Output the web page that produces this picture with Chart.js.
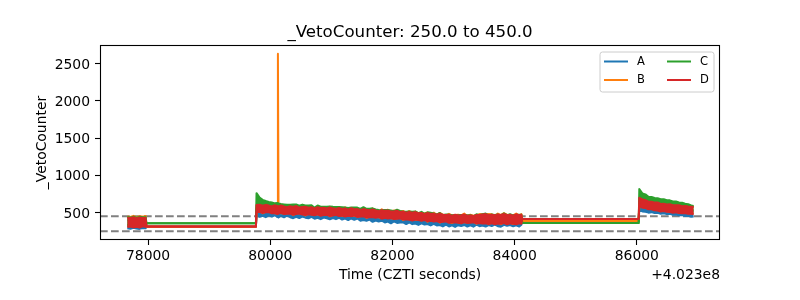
<!DOCTYPE html>
<html><head><meta charset="utf-8">
<script src="https://cdn.jsdelivr.net/npm/chart.js@4"></script>
<style>html,body{margin:0;padding:0;background:#fff}canvas{display:block}</style>
</head><body>
<canvas id="c" width="800" height="300"></canvas>
<script>
// ---- data: time offsets from 4.023e8 s; each series given as the upper and
// lower envelope of its fast-varying count rate in each time bin ----
const times = [
  77660, 77710, 77760, 77810, 77860, 77910, 77960,
  77975, 79765,
  79775, 79825, 79875, 79925, 79975, 80025, 80075, 80115, 80125, 80135,
  80175, 80225, 80275, 80325, 80375, 80425, 80475, 80525, 80575, 80625,
  80675, 80725, 80775, 80825, 80875, 80925, 80975, 81025, 81075, 81125,
  81175, 81225, 81275, 81325, 81375, 81425, 81475, 81525, 81575, 81625,
  81675, 81725, 81775, 81825, 81875, 81925, 81975, 82025, 82075, 82125,
  82175, 82225, 82275, 82325, 82375, 82425, 82475, 82525, 82575, 82625,
  82675, 82725, 82775, 82825, 82875, 82925, 82975, 83025, 83075, 83125,
  83175, 83225, 83275, 83325, 83375, 83425, 83475, 83525, 83575, 83625,
  83675, 83725, 83775, 83825, 83875, 83925, 83975, 84025, 84075, 84110,
  84125, 86030,
  86040, 86090, 86140, 86190, 86240, 86290, 86340, 86390, 86440, 86490,
  86540, 86590, 86640, 86690, 86740, 86790, 86840, 86890, 86929
];
const seriesAUpper = [
  400, 395, 405, 390, 398, 402, 396,
  310, 310,
  548, 550, 544, 545, 541, 538, 536, 537, 533, 534,
  530, 529, 527, 524, 523, 521, 520, 517, 516, 514,
  513, 512, 509, 510, 506, 505, 504, 502, 500, 501,
  498, 496, 495, 493, 491, 490, 487, 485, 484, 480,
  479, 476, 474, 471, 470, 467, 464, 462, 460, 457,
  455, 452, 449, 447, 444, 441, 438, 436, 433, 430,
  427, 425, 422, 419, 416, 414, 411, 410, 409, 409,
  408, 408, 407, 408, 406, 405, 406, 405, 404, 405,
  404, 403, 404, 403, 402, 403, 402, 401, 402, 401,
  386, 386,
  600, 590, 582, 575, 568, 562, 556, 550, 546, 541,
  537, 533, 529, 525, 521, 518, 515, 512, 509
];
const seriesALower = [
  290, 282, 295, 285, 280, 292, 288,
  310, 310,
  463, 442, 456, 437, 461, 445, 463, 439, 449, 433,
  456, 436, 457, 437, 424, 443, 425, 446, 431, 423,
  442, 417, 430, 410, 432, 423, 408, 426, 411, 430,
  405, 418, 398, 420, 403, 419, 390, 400, 388, 404,
  375, 393, 380, 390, 366, 379, 355, 380, 360, 365,
  369, 345, 369, 344, 351, 334, 354, 338, 346, 326,
  349, 326, 332, 313, 336, 313, 327, 307, 330, 320,
  333, 312, 328, 310, 337, 316, 325, 311, 332, 319,
  337, 316, 309, 334, 321, 331, 314, 329, 311, 337,
  386, 386,
  528, 515, 510, 498, 505, 492, 496, 484, 490, 478,
  482, 470, 472, 462, 465, 452, 456, 442, 446
];
const seriesBUpper = [
  448, 440, 455, 438, 450, 445, 452,
  310, 310,
  590, 592, 582, 590, 585, 572, 586, 575, 2630, 570,
  582, 572, 560, 574, 565, 575, 558, 562, 568, 556,
  560, 548, 561, 552, 553, 548, 577, 550, 559, 557,
  553, 569, 531, 559, 554, 541, 547, 544, 543, 520,
  553, 530, 514, 544, 517, 537, 513, 527, 519, 510,
  521, 494, 521, 489, 513, 491, 488, 489, 499, 474,
  498, 468, 494, 472, 461, 483, 460, 467, 469, 463,
  485, 450, 470, 456, 460, 479, 476, 476, 479, 476,
  457, 485, 466, 492, 472, 462, 461, 487, 460, 478,
  386, 386,
  690, 668, 660, 640, 638, 628, 630, 612, 614, 606,
  608, 600, 602, 600, 590, 592, 586, 584, 578
];
const seriesBLower = [
  320, 318, 315, 322, 312, 325, 320,
  310, 310,
  513, 522, 489, 513, 513, 505, 490, 489, 503, 499,
  491, 489, 490, 502, 467, 490, 494, 484, 460, 486,
  476, 479, 472, 465, 474, 481, 449, 469, 475, 468,
  455, 454, 465, 461, 453, 451, 451, 464, 429, 445,
  447, 441, 435, 427, 434, 435, 424, 421, 424, 433,
  400, 421, 410, 408, 404, 407, 397, 412, 376, 400,
  386, 400, 365, 386, 388, 374, 360, 379, 368, 369,
  368, 368, 372, 380, 350, 370, 357, 370, 343, 366,
  349, 365, 343, 369, 349, 369, 345, 350, 363, 362,
  386, 386,
  592, 572, 570, 550, 552, 538, 535, 522, 528, 518,
  515, 506, 510, 500, 498, 500, 490, 491, 486
];
const seriesCUpper = [
  440, 432, 445, 430, 442, 436, 438,
  355, 355,
  760, 700, 670, 655, 643, 634, 623, 628, 617, 620,
  613, 609, 604, 605, 607, 607, 593, 606, 595, 595,
  598, 565, 595, 579, 577, 579, 581, 576, 573, 575,
  572, 568, 561, 567, 569, 566, 549, 572, 549, 552,
  556, 541, 534, 531, 535, 534, 527, 518, 537, 522,
  511, 510, 513, 511, 515, 490, 509, 482, 503, 498,
  487, 473, 494, 463, 472, 469, 462, 463, 464, 465,
  465, 462, 464, 448, 476, 463, 476, 486, 459, 474,
  467, 472, 461, 488, 463, 477, 462, 468, 471, 469,
  359, 359,
  815, 757, 744, 712, 708, 694, 693, 679, 678, 664,
  663, 649, 647, 634, 632, 617, 612, 595, 588
];
const seriesCLower = [
  330, 335, 325, 330, 320, 335, 328,
  355, 355,
  560, 555, 556, 552, 550, 548, 546, 545, 544, 542,
  540, 539, 537, 535, 533, 532, 530, 529, 527, 526,
  524, 523, 521, 520, 518, 517, 515, 514, 512, 511,
  509, 508, 506, 505, 503, 501, 498, 496, 494, 491,
  489, 487, 484, 482, 480, 477, 475, 473, 470, 467,
  465, 462, 459, 456, 454, 451, 448, 445, 443, 440,
  437, 434, 432, 429, 426, 423, 420, 420, 420, 419,
  419, 419, 418, 418, 418, 417, 417, 417, 417, 416,
  416, 416, 416, 415, 415, 415, 415, 415, 415, 415,
  359, 359,
  640, 625, 612, 600, 592, 585, 578, 572, 567, 562,
  557, 553, 549, 545, 541, 537, 534, 531, 528
];
const seriesDUpper = [
  430, 425, 438, 420, 432, 428, 425,
  312, 312,
  600, 604, 590, 603, 593, 581, 597, 584, 589, 580,
  594, 580, 571, 583, 575, 587, 566, 573, 577, 564,
  570, 555, 572, 560, 563, 554, 569, 556, 547, 560,
  548, 555, 539, 557, 544, 546, 534, 546, 537, 529,
  542, 527, 518, 530, 524, 528, 512, 515, 525, 506,
  511, 497, 508, 497, 506, 489, 493, 478, 493, 483,
  484, 470, 486, 469, 468, 471, 455, 471, 459, 464,
  472, 456, 461, 452, 468, 468, 474, 479, 465, 470,
  462, 475, 468, 480, 465, 471, 458, 476, 464, 470,
  413, 413,
  698, 675, 667, 645, 644, 633, 634, 616, 617, 609,
  610, 598, 598, 597, 585, 587, 580, 579, 573
];
const seriesDLower = [
  305, 312, 300, 310, 298, 315, 308,
  312, 312,
  505, 510, 494, 503, 507, 490, 493, 480, 495, 487,
  496, 479, 484, 487, 470, 481, 486, 472, 465, 476,
  470, 464, 475, 456, 466, 469, 454, 459, 469, 453,
  458, 445, 457, 449, 458, 441, 445, 449, 432, 436,
  439, 429, 440, 417, 428, 420, 427, 412, 416, 421,
  405, 411, 404, 393, 407, 398, 389, 400, 381, 390,
  380, 385, 368, 377, 380, 362, 365, 369, 362, 354,
  371, 359, 364, 368, 355, 360, 351, 355, 346, 357,
  341, 353, 348, 359, 343, 354, 348, 341, 355, 350,
  413, 413,
  585, 565, 562, 543, 544, 530, 528, 514, 521, 510,
  508, 498, 502, 492, 491, 492, 482, 483, 478
];
const seriesLabels = ['A', 'B', 'C', 'D'];
const seriesColors = ['#1f77b4', '#ff7f0e', '#2ca02c', '#d62728'];
const thresholds = [250, 450];
const xTicks = [78000, 80000, 82000, 84000, 86000];
const yTicks = [500, 1000, 1500, 2000, 2500];
const xRange = [77213, 87361];
const yRange = [131, 2749];
const titleText = '_VetoCounter: 250.0 to 450.0';
const xLabel = 'Time (CZTI seconds)';
const yLabel = '_VetoCounter';
const offsetText = '+4.023e8';

// ---- chart ----
const FONT = '"DejaVu Sans", sans-serif';
Chart.defaults.font.family = FONT;
const seriesEnvelopes = [
  [seriesAUpper, seriesALower],
  [seriesBUpper, seriesBLower],
  [seriesCUpper, seriesCLower],
  [seriesDUpper, seriesDLower]
];
const toPoints = vals => times.map((t, j) => ({x: t, y: vals[j]}));
const datasets = [];
seriesEnvelopes.forEach(([up, lo], i) => {
  const col = seriesColors[i];
  datasets.push({
    label: seriesLabels[i], isSeries: true,
    data: toPoints(up),
    borderColor: col, backgroundColor: col,
    borderWidth: 2, pointRadius: 0, tension: 0,
    borderJoinStyle: 'round',
    fill: '+1',
    order: 10 - i
  });
  datasets.push({
    label: seriesLabels[i] + ' (low)',
    data: toPoints(lo),
    borderColor: col, backgroundColor: col,
    borderWidth: 2, pointRadius: 0, tension: 0,
    borderJoinStyle: 'round',
    fill: false,
    order: 10.5 - i
  });
});
thresholds.forEach(v => datasets.push({
  label: '',
  data: xRange.map(x => ({x: x, y: v})),
  borderColor: '#808080',
  borderWidth: 2,
  borderDash: [7.7, 3.3],
  pointRadius: 0,
  fill: false,
  order: 20
}));

const framePlugin = {
  id: 'frame',
  afterDatasetsDraw(chart) {
    const ctx = chart.ctx, a = chart.chartArea;
    ctx.save();
    ctx.strokeStyle = '#000';
    ctx.lineWidth = 1.1;
    ctx.strokeRect(a.left + 0.5, a.top + 0.5, a.right - a.left - 1, a.bottom - a.top - 1);
    // legend (2 columns, filled column by column)
    const items = chart.data.datasets.filter(d => d.isSeries);
    const fs = 11.5;
    const boxW = 114, boxH = 40;
    const bx = a.right - 6 - boxW, by = a.top + 7;
    const r = 2.5;
    ctx.beginPath();
    ctx.moveTo(bx + r, by);
    ctx.lineTo(bx + boxW - r, by);
    ctx.arcTo(bx + boxW, by, bx + boxW, by + r, r);
    ctx.lineTo(bx + boxW, by + boxH - r);
    ctx.arcTo(bx + boxW, by + boxH, bx + boxW - r, by + boxH, r);
    ctx.lineTo(bx + r, by + boxH);
    ctx.arcTo(bx, by + boxH, bx, by + boxH - r, r);
    ctx.lineTo(bx, by + r);
    ctx.arcTo(bx, by, bx + r, by, r);
    ctx.closePath();
    ctx.fillStyle = 'rgba(255,255,255,0.8)';
    ctx.fill();
    ctx.strokeStyle = '#cccccc';
    ctx.lineWidth = 1;
    ctx.stroke();
    ctx.font = fs + 'px ' + FONT;
    ctx.textBaseline = 'middle';
    ctx.textAlign = 'left';
    const colX = [bx + 4, bx + 67];
    const rowY = [by + 9.5, by + 28];
    items.forEach((d, i) => {
      const col = Math.floor(i / 2), row = i % 2;
      const x = colX[col], y = rowY[row];
      ctx.strokeStyle = d.borderColor;
      ctx.lineWidth = 2;
      ctx.beginPath();
      ctx.moveTo(x, y);
      ctx.lineTo(x + 24, y);
      ctx.stroke();
      ctx.fillStyle = '#000';
      ctx.fillText(d.label, x + 33, y + 0.5);
    });
    ctx.restore();
  },
  afterDraw(chart) {
    const ctx = chart.ctx, a = chart.chartArea;
    const cx = (a.left + a.right) / 2;
    ctx.save();
    ctx.fillStyle = '#000';
    ctx.textBaseline = 'alphabetic';
    ctx.font = '16.67px ' + FONT;
    ctx.textAlign = 'center';
    ctx.fillText(titleText, cx, a.top - 8.5);
    ctx.font = '13.9px ' + FONT;
    ctx.fillText(xLabel, cx, a.bottom + 39);
    ctx.textAlign = 'right';
    ctx.fillText(offsetText, a.right, a.bottom + 39);
    ctx.translate(a.left - 54, (a.top + a.bottom) / 2);
    ctx.rotate(-Math.PI / 2);
    ctx.textAlign = 'center';
    ctx.fillText(yLabel, 0, 0);
    ctx.restore();
  }
};

const tickFont = {family: FONT, size: 13.9};
new Chart(document.getElementById('c'), {
  type: 'line',
  data: {datasets: datasets},
  options: {
    responsive: false,
    animation: false,
    devicePixelRatio: 1,
    layout: {padding: {top: 45, right: 80, left: 0, bottom: 0}},
    plugins: {legend: {display: false}, tooltip: {enabled: false}, title: {display: false}},
    scales: {
      x: {
        type: 'linear',
        min: xRange[0], max: xRange[1],
        afterBuildTicks: s => { s.ticks = xTicks.map(v => ({value: v})); },
        afterFit: s => { s.height = 60; },
        ticks: {callback: v => String(v), color: '#000', font: tickFont, padding: 3.5, maxRotation: 0, autoSkip: false},
        grid: {display: true, drawOnChartArea: false, drawTicks: true, tickLength: 5, tickColor: '#000', tickWidth: 1.1, color: '#000'},
        border: {display: false}
      },
      y: {
        type: 'linear',
        min: yRange[0], max: yRange[1],
        afterBuildTicks: s => { s.ticks = yTicks.map(v => ({value: v})); },
        afterFit: s => { s.width = 100; },
        ticks: {callback: v => String(v), color: '#000', font: tickFont, padding: 5, autoSkip: false, labelOffset: 1.5},
        grid: {display: true, drawOnChartArea: false, drawTicks: true, tickLength: 5, tickColor: '#000', tickWidth: 1.1, color: '#000'},
        border: {display: false}
      }
    }
  },
  plugins: [framePlugin]
});
</script>
</body></html>
